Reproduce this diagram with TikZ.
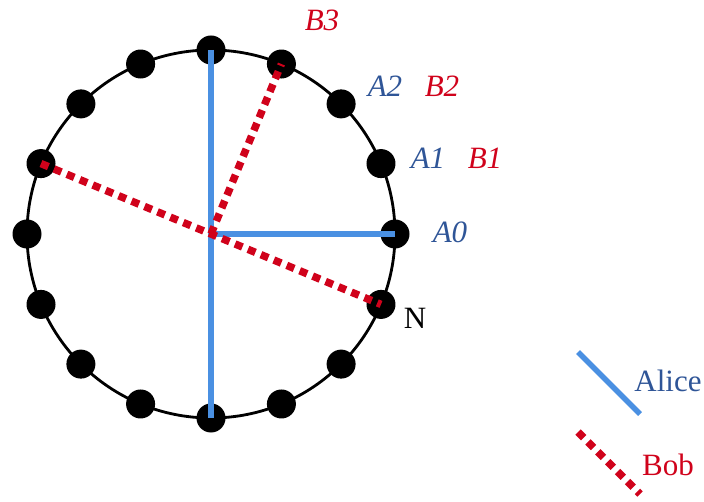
\RequirePackage{fix-cm}
\documentclass[tikz,border=0pt]{standalone}
\usepackage{amsmath}
\usepackage{fontspec}
\setmainfont{Liberation Serif}
\usepackage{tikz}
\usetikzlibrary{calc}
\definecolor{aliceblue}{RGB}{74,144,226}
\definecolor{alicetext}{RGB}{47,85,151}
\definecolor{bobred}{RGB}{208,2,27}

\begin{document}
\begin{tikzpicture}[x=1pt,y=-1pt,
        dot/.style={circle,fill=black,inner sep=0pt,minimum size=29pt},
        alicepath/.style={draw=aliceblue,line width=5.5pt},
        bobpath/.style={draw=bobred,line width=7.5pt,dash pattern=on 8pt off 6pt},
        lab/.style={font=\fontsize{31}{33}\selectfont,inner sep=0pt},
        ilab/.style={lab,font=\fontsize{31}{33}\selectfont\itshape}]
        \useasboundingbox (0,0) rectangle (704,502);
        \coordinate (c) at (211,234);
        \draw[line width=2.8pt] (c) circle (184);
        \foreach \k in {0,...,15}
            \node[dot] (d\k) at ($(c)+({184*cos(22.5*\k)},{-184*sin(22.5*\k)})$) {};
        % Alice
        \draw[alicepath] (d4.center)--(d12.center);
        \draw[alicepath] (c)--(d0.center);
        % Bob
        \draw[bobpath] (c)--(d3.center);
        \draw[bobpath] (d7.center)--(d15.center);
        % labels
        \node[ilab,text=bobred] (b3) at (322,20) {B3};
        \node[ilab,text=alicetext] (a2) at (385,86) {A2};
        \node[ilab,text=bobred] (b2) at (442,86) {B2};
        \node[ilab,text=alicetext] (a1) at (428,158) {A1};
        \node[ilab,text=bobred] (b1) at (485,158) {B1};
        \node[ilab,text=alicetext] (a0) at (450,232) {A0};
        \node[lab] (n) at (415,318) {N};
        % legend
        \coordinate (al1) at (578,352);
        \coordinate (al2) at (640,414);
        \draw[alicepath] (al1)--(al2);
        \node[lab,text=alicetext] (alice) at (668,381) {Alice};
        \coordinate (bo1) at (578,432);
        \coordinate (bo2) at (640,494);
        \draw[bobpath] (bo1)--(bo2);
        \node[lab,text=bobred] (bob) at (668,465) {Bob};
    \end{tikzpicture}
\end{document}
